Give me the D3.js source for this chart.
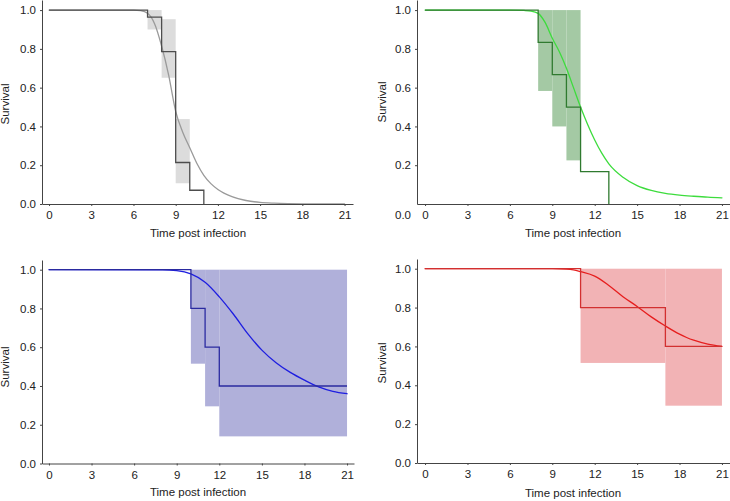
<!DOCTYPE html>
<html>
<head>
<meta charset="utf-8">
<script src="https://cdn.jsdelivr.net/npm/d3@7/dist/d3.min.js"></script>
<style>
  html, body { margin: 0; padding: 0; background: #fff; }
  svg { display: block; }
  text { font-family: "Liberation Sans", Arial, Helvetica, sans-serif; }
</style>
</head>
<body>
<svg id="chart" width="730" height="501"></svg>
<script>
// ---------- shared tick labels ----------
const timeTicks = [0, 3, 6, 9, 12, 15, 18, 21];
const survivalTicks = [0, 0.2, 0.4, 0.6, 0.8, 1.0];
const xTitle = "Time post infection";
const yTitle = "Survival";

// ---------- Panel A (grey) ----------
const kmTimesA = [0, 7, 8, 9, 10, 11];
const kmSurvA  = [1, 0.964, 0.786, 0.214, 0.071, 0];
const ciStartA = [7, 8, 9];
const ciEndA   = [8, 9, 10];
const ciLowA   = [0.90, 0.651, 0.107];
const ciHighA  = [1.0, 0.953, 0.438];
const fitTimesA = [0, 6, 6.5, 7, 7.5, 8, 8.5, 9, 9.5, 10, 10.5, 11, 11.5, 12, 13, 14, 15, 16, 17, 18, 21];
const fitSurvA  = [1, 1, 0.997, 0.984, 0.93, 0.815, 0.665, 0.478, 0.37, 0.29, 0.21, 0.148, 0.105, 0.075, 0.038, 0.018, 0.008, 0.004, 0.002, 0.001, 0];

// ---------- Panel B (green) ----------
const kmTimesB = [0, 8, 9, 10, 11, 13];
const kmSurvB  = [1, 0.833, 0.667, 0.5, 0.167, 0];
const ciStartB = [8, 9, 10];
const ciEndB   = [9, 10, 11];
const ciLowB   = [0.583, 0.40, 0.225];
const ciHighB  = [1.0, 1.0, 1.0];
const fitTimesB = [0, 6, 7, 7.5, 8, 8.5, 9, 9.5, 10, 10.5, 11, 11.5, 12, 12.5, 13, 14, 15, 16, 17, 18, 19, 20, 21];
const fitSurvB  = [1, 1, 0.998, 0.995, 0.983, 0.935, 0.855, 0.785, 0.70, 0.60, 0.50, 0.41, 0.33, 0.262, 0.207, 0.138, 0.095, 0.07, 0.055, 0.046, 0.04, 0.035, 0.032];

// ---------- Panel C (blue) ----------
const kmTimesC = [0, 10, 11, 12, 21];
const kmSurvC  = [1, 0.8, 0.6, 0.4, 0.4];
const ciStartC = [10, 11, 12];
const ciEndC   = [11, 12, 21];
const ciLowC   = [0.515, 0.295, 0.14];
const ciHighC  = [1.0, 1.0, 1.0];
const fitTimesC = [0, 8, 9, 10, 11, 12, 13, 14, 15, 16, 17, 18, 19, 20, 21];
const fitSurvC  = [1, 0.999, 0.995, 0.978, 0.935, 0.86, 0.77, 0.67, 0.585, 0.52, 0.47, 0.43, 0.395, 0.372, 0.36];

// ---------- Panel D (red) ----------
const kmTimesD = [0, 11, 17, 21];
const kmSurvD  = [1, 0.8, 0.6, 0.6];
const ciStartD = [11, 17];
const ciEndD   = [17, 21];
const ciLowD   = [0.515, 0.295];
const ciHighD  = [1.0, 1.0];
const fitTimesD = [0, 9, 10, 10.5, 11, 12, 13, 14, 15, 16, 17, 18, 18.5, 19, 20, 21];
const fitSurvD  = [1, 1, 0.998, 0.994, 0.985, 0.962, 0.914, 0.856, 0.806, 0.752, 0.705, 0.663, 0.646, 0.632, 0.612, 0.60];

// ---------- panel definitions (layout + styles) ----------
const panels = [
  { km: [kmTimesA, kmSurvA], ci: [ciStartA, ciEndA, ciLowA, ciHighA], fit: [fitTimesA, fitSurvA],
    fill: "#dcdcdc", step: "#4d4d4d", curve: "#9a9a9a",
    xDom: [-0.5, 21.6], xRange: [42, 353], yDom: [0, 1.052], yRange: [204, 0],
    yLabelX: 9, yLabelY: 104, xLabelX: 198, xLabelY: 237, zeroOnXRow: false },
  { km: [kmTimesB, kmSurvB], ci: [ciStartB, ciEndB, ciLowB, ciHighB], fit: [fitTimesB, fitSurvB],
    fill: "#a4c9a4", step: "#2f7a2f", curve: "#3ddc3d",
    xDom: [-0.57, 21.57], xRange: [417, 730], yDom: [0, 1.052], yRange: [204, 0],
    yLabelX: 386, yLabelY: 102, xLabelX: 573, xLabelY: 237, zeroOnXRow: true },
  { km: [kmTimesC, kmSurvC], ci: [ciStartC, ciEndC, ciLowC, ciHighC], fit: [fitTimesC, fitSurvC],
    fill: "#b0b0da", step: "#2a2aa0", curve: "#1e1ee0",
    xDom: [-0.49, 21.49], xRange: [42, 354], yDom: [0, 1.05], yRange: [463.5, 260],
    yLabelX: 9, yLabelY: 367, xLabelX: 198, xLabelY: 496, zeroOnXRow: false },
  { km: [kmTimesD, kmSurvD], ci: [ciStartD, ciEndD, ciLowD, ciHighD], fit: [fitTimesD, fitSurvD],
    fill: "#f2b3b5", step: "#d23030", curve: "#e61e1e",
    xDom: [-0.57, 21.57], xRange: [417, 730], yDom: [0, 1.05], yRange: [463, 259],
    yLabelX: 386, yLabelY: 363, xLabelX: 573, xLabelY: 497, zeroOnXRow: false }
];

const svg = d3.select("#chart");
svg.append("rect").attr("width", 730).attr("height", 501).attr("fill", "#fff");

const fontSize = 11.5;
const axisColor = "#444";
const textColor = "#222";

panels.forEach(p => {
  const x = d3.scaleLinear().domain(p.xDom).range(p.xRange);
  const y = d3.scaleLinear().domain(p.yDom).range(p.yRange);
  const g = svg.append("g");

  // CI boxes
  const [cs, ce, cl, ch] = p.ci;
  g.selectAll("rect.ci").data(cs.map((s, i) => ({ s, e: ce[i], lo: cl[i], hi: ch[i] })))
    .join("rect")
    .attr("x", d => x(d.s))
    .attr("width", d => x(d.e) - x(d.s))
    .attr("y", d => y(d.hi))
    .attr("height", d => y(d.lo) - y(d.hi))
    .attr("fill", p.fill);

  // fitted curve
  const fitData = p.fit[0].map((t, i) => [t, p.fit[1][i]]);
  g.append("path")
    .datum(fitData)
    .attr("fill", "none")
    .attr("stroke", p.curve)
    .attr("stroke-width", 1.3)
    .attr("stroke-linecap", "round")
    .attr("d", d3.line().x(d => x(d[0])).y(d => y(d[1])).curve(d3.curveMonotoneX));

  // KM step line
  const kmData = p.km[0].map((t, i) => [t, p.km[1][i]]);
  g.append("path")
    .datum(kmData)
    .attr("fill", "none")
    .attr("stroke", p.step)
    .attr("stroke-width", 1.3)
    .attr("d", d3.line().x(d => x(d[0])).y(d => y(d[1])).curve(d3.curveStepAfter));

  // x axis
  const xAxis = d3.axisBottom(x).tickValues(timeTicks).tickSize(2).tickSizeOuter(0).tickPadding(5)
    .tickFormat(d3.format("d"));
  const gx = g.append("g").attr("transform", `translate(0,${p.yRange[0]})`).call(xAxis);

  // y axis
  const yTicks = p.zeroOnXRow ? survivalTicks.filter(v => v > 0) : survivalTicks;
  const yAxis = d3.axisLeft(y).tickValues(yTicks).tickSize(2).tickSizeOuter(0).tickPadding(4)
    .tickFormat(d3.format(".1f"));
  const gy = g.append("g").attr("transform", `translate(${p.xRange[0]},0)`).call(yAxis);

  [gx, gy].forEach(ax => {
    ax.select(".domain").attr("stroke", axisColor).attr("stroke-width", 1);
    ax.selectAll(".tick line").attr("stroke", axisColor);
    ax.selectAll(".tick text").attr("fill", textColor).style("font-size", fontSize + "px")
      .style("font-family", '"Liberation Sans", Arial, Helvetica, sans-serif');
  });

  if (p.zeroOnXRow) {
    g.append("text")
      .attr("x", p.xRange[0] - 6)
      .attr("y", p.yRange[0] + 15)
      .attr("text-anchor", "end")
      .attr("fill", textColor)
      .style("font-size", fontSize + "px")
      .text(d3.format(".1f")(0));
  }

  // axis titles
  g.append("text")
    .attr("x", p.xLabelX).attr("y", p.xLabelY)
    .attr("text-anchor", "middle")
    .attr("fill", textColor)
    .style("font-size", fontSize + "px")
    .text(xTitle);
  g.append("text")
    .attr("transform", `translate(${p.yLabelX},${p.yLabelY}) rotate(-90)`)
    .attr("text-anchor", "middle")
    .attr("fill", textColor)
    .style("font-size", fontSize + "px")
    .text(yTitle);
});
</script>
</body>
</html>
